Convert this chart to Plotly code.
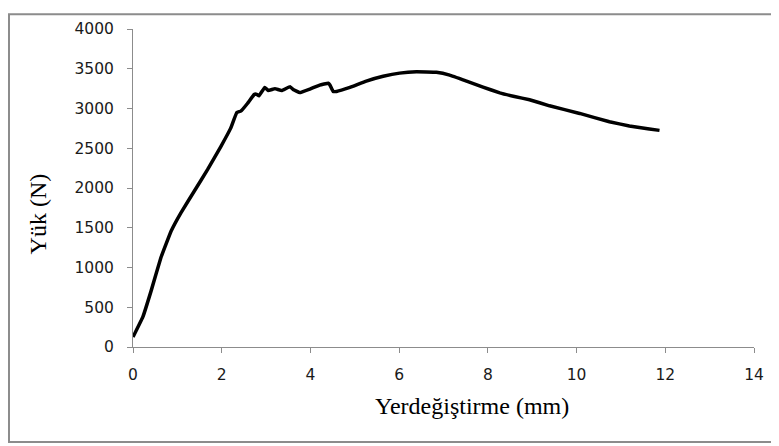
import plotly.graph_objects as go

# Displacement (mm) and load (N)
displacement_mm = [0.00, 0.22, 0.41, 0.63, 0.86, 1.08, 1.38, 1.68, 1.98, 2.20, 2.34, 2.43, 2.58, 2.73,
                   2.78, 2.84, 2.97, 3.05, 3.20, 3.35, 3.54, 3.61, 3.76, 3.99, 4.21, 4.40, 4.44, 4.51,
                   4.59, 4.89, 5.26, 5.64, 6.01, 6.39, 6.84, 7.14, 7.52, 7.89, 8.27, 8.60, 8.94, 9.39,
                   10.07, 10.74, 11.19, 11.64, 11.87]
load_N = [125, 375, 709, 1125, 1459, 1688, 1959, 2230, 2521, 2750, 2950, 2967, 3063, 3175,
          3180, 3160, 3265, 3225, 3250, 3225, 3275, 3240, 3200, 3245, 3295, 3318, 3295, 3215,
          3215, 3265, 3345, 3405, 3445, 3462, 3455, 3420, 3345, 3270, 3196, 3150, 3110, 3034,
          2938, 2834, 2780, 2742, 2725]

x_ticks = [0, 2, 4, 6, 8, 10, 12, 14]
y_ticks = [0, 500, 1000, 1500, 2000, 2500, 3000, 3500, 4000]

x_title = "Yerdeğiştirme (mm)"
y_title = "Yük (N)"

fig = go.Figure()
fig.add_trace(go.Scatter(
    x=displacement_mm, y=load_N, mode="lines",
    line=dict(color="black", width=3.5, shape="spline", smoothing=0.2),
    showlegend=False, hoverinfo="skip",
))

axis_common = dict(
    showgrid=False, zeroline=False, showline=True, linecolor="#8c8c8c", linewidth=1,
    ticks="outside", ticklen=5, tickcolor="#8c8c8c", tickwidth=1,
    tickfont=dict(family="DejaVu Sans", size=15.5, color="#1a1a1a"),
)

fig.update_xaxes(range=[0, 14], tickvals=x_ticks, ticklabelstandoff=8, **axis_common)
fig.update_yaxes(range=[0, 4000], tickvals=y_ticks, ticklabelstandoff=10, **axis_common)

fig.add_annotation(text=x_title, xref="paper", yref="paper", x=0.546, y=-0.186,
                   showarrow=False, xanchor="center", yanchor="middle",
                   font=dict(family="Liberation Serif", size=24, color="black"))
fig.add_annotation(text=y_title, xref="paper", yref="paper", x=-0.153, y=0.42,
                   showarrow=False, xanchor="center", yanchor="middle", textangle=-90,
                   font=dict(family="Liberation Serif", size=24, color="black"))

# outer frame
fig.add_shape(type="rect", xref="paper", yref="paper",
              x0=-0.1997, x1=1.0370, y0=-0.2984, y1=1.0465,
              line=dict(color="#8c8c8c", width=2), fillcolor="rgba(0,0,0,0)", layer="below")

# page body has an 8px margin, so the figure is 8px smaller and margins shifted
fig.update_layout(
    width=771, height=438,
    margin=dict(l=125, r=25, t=16, b=99),
    plot_bgcolor="white", paper_bgcolor="white",
)

fig.write_html("out.html")
